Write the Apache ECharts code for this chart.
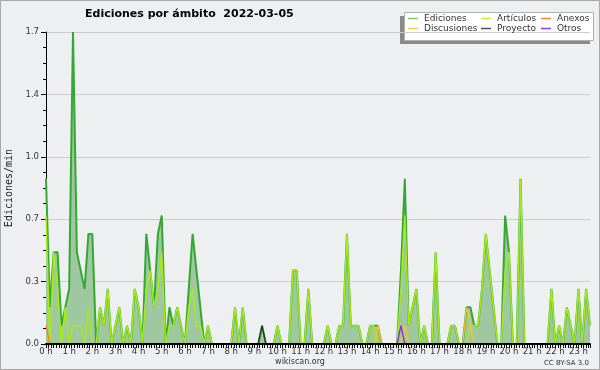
<!DOCTYPE html>
<html>
<head>
<meta charset="utf-8">
<script src="https://cdn.jsdelivr.net/npm/echarts@6/dist/echarts.min.js"></script>
<style>
html,body{margin:0;padding:0;background:#eeeff1;}
#c{width:600px;height:370px;}
</style>
</head>
<body>
<div id="c"></div>
<script>
// 10-minute buckets from 00:00, values in edits/min
const hourLabels = ['0 h','1 h','2 h','3 h','4 h','5 h','6 h','7 h','8 h','9 h','10 h','11 h','12 h','13 h','14 h','15 h','16 h','17 h','18 h','19 h','20 h','21 h','22 h','23 h'];
const yTickLabels = ['0.0','0.3','0.7','1.0','1.4','1.7'];

const ediciones = [
  0.9,0.2,0.5,0.5,0.1,0.2,0.3,1.7,0.5,0.4,0.3,0.6,
  0.6,0,0.2,0.1,0.3,0,0.1,0.2,0,0.1,0,0.3,
  0.2,0,0.6,0.4,0.2,0.6,0.7,0,0.2,0.1,0.2,0.1,
  0,0.3,0.6,0.4,0.2,0,0.1,0,0,0,0,0,
  0,0.2,0,0.2,0,0,0,0,0.1,0,0,0,
  0.1,0,0,0,0.4,0.4,0,0,0.3,0,0,0,
  0,0.1,0,0,0.1,0.1,0.6,0.1,0.1,0.1,0,0,
  0.1,0.1,0.1,0,0,0,0,0,0.4,0.9,0.1,0.2,
  0.3,0,0.1,0,0,0.5,0,0,0,0.1,0.1,0,
  0,0.2,0.2,0.1,0.1,0.3,0.6,0.4,0.2,0,0,0.7,
  0.5,0,0,0.9,0,0,0,0,0,0,0,0.3,
  0,0.1,0,0.2,0.1,0,0.3,0,0.3,0.1
];
const articulos = [
  0.7,0,0.5,0.3,0,0.2,0,0.1,0.1,0.1,0,0.2,
  0,0,0.2,0.1,0.3,0,0.1,0.2,0,0.1,0,0.3,
  0.2,0,0.3,0.4,0.2,0.3,0.5,0,0.1,0.1,0.2,0.1,
  0,0.2,0.3,0.1,0.1,0,0.1,0,0,0,0,0,
  0,0.2,0,0.2,0,0,0,0,0,0,0,0,
  0.1,0,0,0,0.4,0.4,0,0,0.3,0,0,0,
  0,0.1,0,0,0.1,0.1,0.6,0.1,0.1,0.1,0,0,
  0.1,0.1,0,0,0,0,0,0,0.3,0.7,0.1,0.2,
  0.3,0,0.1,0,0,0.5,0,0,0,0.1,0.1,0,
  0,0,0.1,0.1,0.1,0.3,0.6,0.4,0.2,0,0,0.4,
  0.5,0,0,0.9,0,0,0,0,0,0,0,0.3,
  0,0.1,0,0.2,0.1,0,0.3,0,0.3,0.1
];
const anexos = [
  0.1,0,0,0,0,0,0,0,0,0,0,0,
  0,0,0,0,0,0,0,0,0,0,0,0,
  0,0,0,0,0,0,0,0,0,0,0,0,
  0,0,0,0,0,0,0,0,0,0,0,0,
  0,0,0,0,0,0,0,0,0,0,0,0,
  0,0,0,0,0,0,0,0,0,0,0,0,
  0,0,0,0,0,0,0,0,0,0,0,0,
  0,0,0,0,0,0,0,0,0,0,0,0,
  0,0,0,0,0,0,0,0,0,0,0,0,
  0,0,0,0,0,0,0,0,0,0,0,0,
  0,0,0,0,0,0,0,0,0,0,0,0,
  0,0,0,0,0,0,0,0,0,0
];
const discusiones = [
  0,0,0,0,0,0,0,0,0,0,0,0,
  0,0,0,0,0,0,0,0,0,0,0,0,
  0,0,0,0,0,0,0,0,0,0,0,0,
  0,0,0,0,0,0,0,0,0,0,0,0,
  0,0,0,0,0,0,0,0,0,0,0,0,
  0,0,0,0,0,0,0,0,0,0,0,0,
  0,0,0,0,0,0,0,0,0,0,0,0,
  0,0,0.1,0,0,0,0,0,0,0.1,0,0,
  0,0,0,0,0,0,0,0,0,0,0,0,
  0,0.2,0.1,0,0,0,0,0,0,0,0,0,
  0,0,0,0,0,0,0,0,0,0,0,0,
  0,0,0,0,0,0,0,0,0,0
];
const proyecto = [
  0,0,0,0,0,0,0,0,0,0,0,0,
  0,0,0,0,0,0,0,0,0,0,0,0,
  0,0,0,0,0,0,0,0,0,0,0,0,
  0,0,0,0,0,0,0,0,0,0,0,0,
  0,0,0,0,0,0,0,0,0.1,0,0,0,
  0,0,0,0,0,0,0,0,0,0,0,0,
  0,0,0,0,0,0,0,0,0,0,0,0,
  0,0,0,0,0,0,0,0,0,0,0,0,
  0,0,0,0,0,0,0,0,0,0,0,0,
  0,0,0,0,0,0,0,0,0,0,0,0,
  0,0,0,0,0,0,0,0,0,0,0,0,
  0,0,0,0,0,0,0,0,0,0
];
const otros = [
  0,0,0,0,0,0,0,0,0,0,0,0,
  0,0,0,0,0,0,0,0,0,0,0,0,
  0,0,0,0,0,0,0,0,0,0,0,0,
  0,0,0,0,0,0,0,0,0,0,0,0,
  0,0,0,0,0,0,0,0,0,0,0,0,
  0,0,0,0,0,0,0,0,0,0,0,0,
  0,0,0,0,0,0,0,0,0,0,0,0,
  0,0,0,0,0,0,0,0,0.1,0,0,0,
  0,0,0,0,0,0,0,0,0,0,0,0,
  0,0,0,0,0,0,0,0,0,0,0,0,
  0,0,0,0,0,0,0,0,0,0,0,0,
  0,0,0,0,0,0,0,0,0,0
];

const seriesNames = ['Ediciones','Artículos','Anexos','Discusiones','Proyecto','Otros'];
const legendColors = ['#77cc77','#ccee33','#ff7f3f','#ffcc33','#555555','#9933ff'];
const lineColors   = ['#34a834','#a6ea18','#ff7a30','#ffc020','#333333','#8a2be2'];

const toXY = arr => arr.map((v, i) => [i / 6, v]);

const chart = echarts.init(document.getElementById('c'), null, {renderer: 'canvas'});

const legendPos = [[408,14],[481,14],[541,14],[408,24],[481,24],[541,24]];

const option = {
  backgroundColor: '#eeeff1',
  animation: false,
  textStyle: {fontFamily: 'DejaVu Sans'},
  title: {
    text: 'Ediciones por ámbito  2022-03-05',
    left: 85, top: 9, padding: 0,
    textStyle: {fontSize: 11, fontWeight: 'bold', color: '#000', fontFamily: 'DejaVu Sans'}
  },
  grid: {left: 46, right: 10, top: 32, bottom: 26, containLabel: false, outerBoundsMode: 'none'},
  xAxis: {
    type: 'value', min: 0, max: 23.5, interval: 1, z: 10,
    axisLine: {lineStyle: {color: '#000', width: 2}},
    axisTick: {length: 4, lineStyle: {color: '#000'}},
    minorTick: {show: true, splitNumber: 9, length: 4, lineStyle: {color: '#000'}},
    splitLine: {show: false},
    axisLabel: {
      formatter: v => hourLabels[Math.round(v)] || '',
      showMaxLabel: false, fontSize: 8.5, color: '#333', margin: 3
    }
  },
  yAxis: {
    type: 'value', min: 0, max: 1.7, interval: 0.34,
    name: 'Ediciones/min', nameLocation: 'middle', nameGap: 30, nameRotate: 90,
    nameTextStyle: {fontFamily: 'DejaVu Sans Mono', fontSize: 10, color: '#1a1a1a'},
    axisLine: {show: true, lineStyle: {color: '#000'}},
    axisTick: {show: true, length: 5, lineStyle: {color: '#000'}},
    minorTick: {show: true, splitNumber: 4, length: 3, lineStyle: {color: '#000'}},
    splitLine: {show: true, lineStyle: {color: '#cccccc'}},
    axisLabel: {
      formatter: v => yTickLabels[Math.round(v / 0.34)] || '',
      fontSize: 8.5, color: '#333', margin: 7
    }
  },
  legend: seriesNames.map((n, k) => ({
    data: [{name: n, itemStyle: {color: legendColors[k]}}],
    left: legendPos[k][0], top: legendPos[k][1], padding: 0,
    icon: 'rect', itemWidth: 10, itemHeight: 1.5, selectedMode: false,
    textStyle: {fontSize: 9, color: '#333', fontFamily: 'DejaVu Sans', padding: [0,0,0,1]}
  })),
  graphic: [
    {type: 'rect', shape: {x: 400, y: 16, width: 190, height: 28}, style: {fill: '#8a8a8a'}},
    {type: 'rect', shape: {x: 404.5, y: 12.5, width: 189, height: 28}, style: {fill: '#ffffff', stroke: '#b0b0b0', lineWidth: 1}},
    {type: 'rect', shape: {x: 0.5, y: 0.5, width: 599, height: 369}, style: {fill: 'none', stroke: '#a8a8a8', lineWidth: 1}},
    {type: 'text', x: 300, y: 362, style: {text: 'wikiscan.org', font: '8px "DejaVu Sans"', fill: '#333', align: 'center', verticalAlign: 'middle', textAlign: 'center', textVerticalAlign: 'middle'}},
    {type: 'text', x: 589, y: 363, style: {text: 'CC BY-SA 3.0', font: '7px "DejaVu Sans"', fill: '#333', align: 'right', verticalAlign: 'middle', textAlign: 'right', textVerticalAlign: 'middle'}}
  ],
  series: [
    {name: 'Ediciones', type: 'line', data: toXY(ediciones), symbol: 'none', z: 2,
     itemStyle: {color: legendColors[0]}, lineStyle: {color: lineColors[0], width: 2},
     areaStyle: {color: '#a0c8a0', opacity: 1}},
    {name: 'Artículos', type: 'line', data: toXY(articulos), symbol: 'none', z: 3,
     itemStyle: {color: legendColors[1]}, lineStyle: {color: lineColors[1], width: 1.5}},
    {name: 'Anexos', type: 'line', data: toXY(anexos), symbol: 'none', z: 3,
     itemStyle: {color: legendColors[2]}, lineStyle: {color: lineColors[2], width: 1.3}},
    {name: 'Discusiones', type: 'line', data: toXY(discusiones), symbol: 'none', z: 3,
     itemStyle: {color: legendColors[3]}, lineStyle: {color: lineColors[3], width: 1.3}},
    {name: 'Proyecto', type: 'line', data: toXY(proyecto), symbol: 'none', z: 3,
     itemStyle: {color: legendColors[4]}, lineStyle: {color: lineColors[4], width: 1.3}},
    {name: 'Otros', type: 'line', data: toXY(otros), symbol: 'none', z: 3,
     itemStyle: {color: legendColors[5]}, lineStyle: {color: lineColors[5], width: 1.3}}
  ]
};
chart.setOption(option);
</script>
</body>
</html>
